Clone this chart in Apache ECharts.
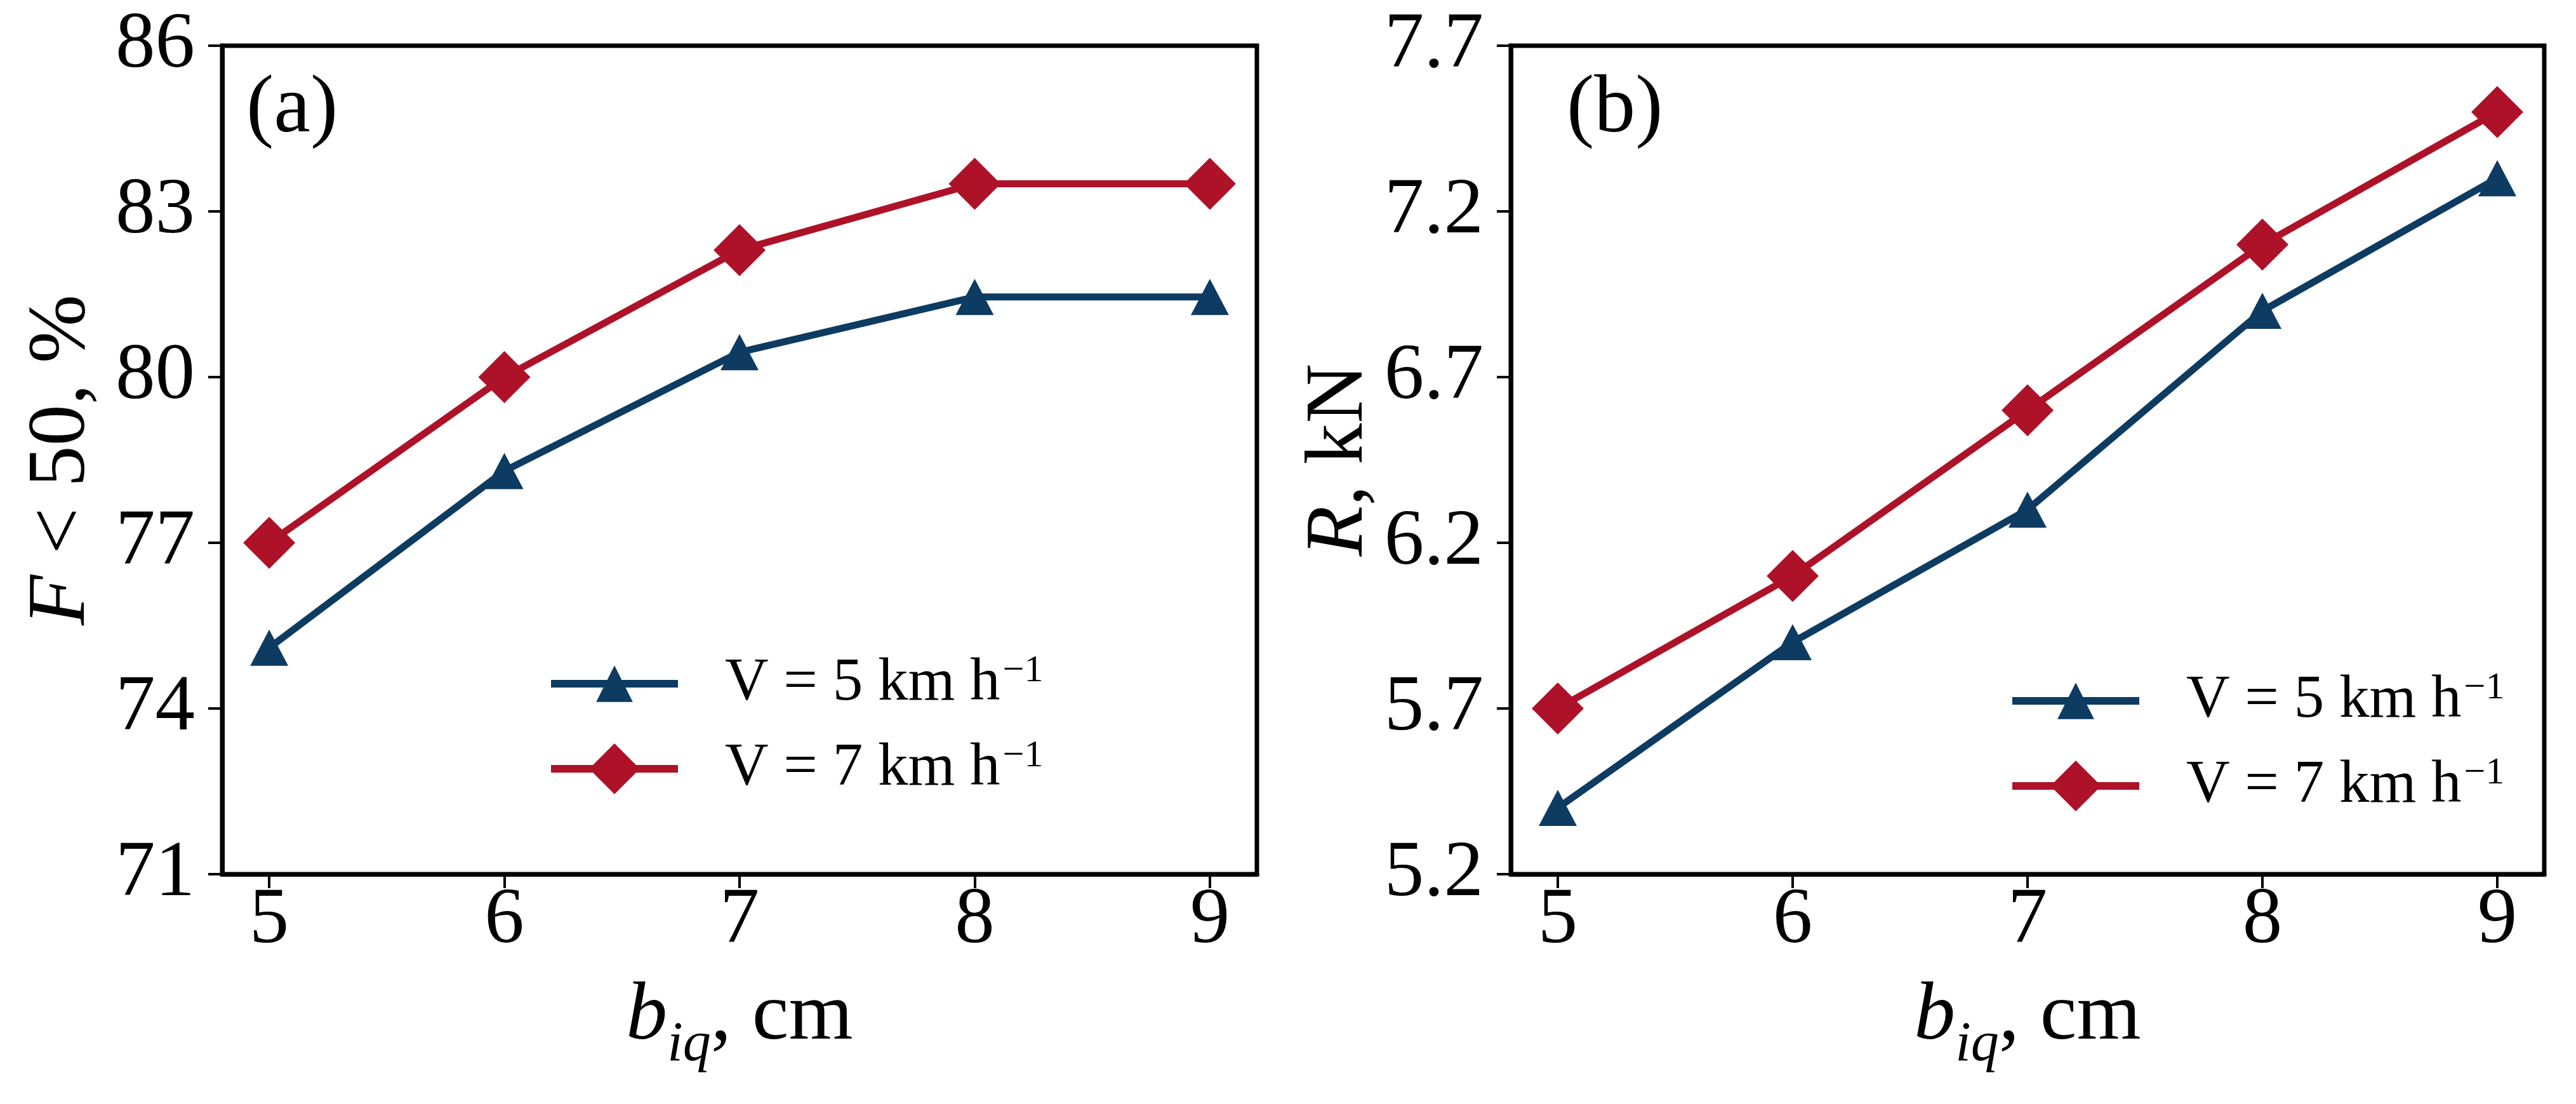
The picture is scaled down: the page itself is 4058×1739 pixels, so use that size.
<!DOCTYPE html>
<html>
<head>
<meta charset="utf-8">
<script src="https://cdn.jsdelivr.net/npm/echarts@6/dist/echarts.min.js"></script>
<style>
html, body { margin: 0; padding: 0; background: #fff; }
#main { width: 4058px; height: 1739px; }
</style>
</head>
<body>
<div id="main"></div>
<script>
// data
var widths = [5, 6, 7, 8, 9];
var fractionV5 = [75.1, 78.3, 80.45, 81.45, 81.45];
var fractionV7 = [77.0, 80.0, 82.3, 83.5, 83.5];
var resistV5 = [5.4, 5.9, 6.3, 6.9, 7.3];
var resistV7 = [5.7, 6.1, 6.6, 7.1, 7.5];
var fractionTicks = [71, 74, 77, 80, 83, 86];
var resistTicks = [5.2, 5.7, 6.2, 6.7, 7.2, 7.7];
var nameV5 = 'V = 5 km h⁻¹';
var nameV7 = 'V = 7 km h⁻¹';

var serif = "'Liberation Serif', 'Times New Roman', serif";
var blue = '#0d3b61';
var red = '#ae1228';

var chart = echarts.init(document.getElementById('main'));

function pairs(ys) {
    return widths.map(function (w, i) { return [w, ys[i]]; });
}

function xAxisFor(idx) {
    return {
        type: 'value',
        gridIndex: idx,
        min: 4.8,
        max: 9.2,
        name: '{i|b}{s|iq}{n|, cm}',
        nameLocation: 'middle',
        nameGap: 160,
        nameTextStyle: {
            color: '#000',
            rich: {
                i: { fontSize: 130, fontFamily: serif, fontStyle: 'italic', lineHeight: 130, verticalAlign: 'top', color: '#000' },
                s: { fontSize: 88, fontFamily: serif, fontStyle: 'italic', lineHeight: 88, verticalAlign: 'top', padding: [66, 0, 0, 0], color: '#000' },
                n: { fontSize: 130, fontFamily: serif, lineHeight: 130, verticalAlign: 'top', color: '#000' }
            }
        },
        axisLine: { show: true, onZero: false, lineStyle: { color: '#000', width: 7 } },
        axisTick: { show: true, customValues: widths, length: 22, lineStyle: { color: '#000', width: 4 } },
        axisLabel: { customValues: widths, margin: 12, fontSize: 125, fontFamily: serif, color: '#000' },
        splitLine: { show: false }
    };
}

function yAxisFor(idx, min, max, ticks, name, gap, digits) {
    return {
        type: 'value',
        gridIndex: idx,
        min: min,
        max: max,
        name: name,
        nameLocation: 'middle',
        nameGap: gap,
        nameTextStyle: {
            color: '#000',
            rich: {
                i: { fontSize: 130, fontFamily: serif, fontStyle: 'italic', color: '#000' },
                n: { fontSize: 130, fontFamily: serif, color: '#000' }
            }
        },
        axisLine: { show: true, onZero: false, lineStyle: { color: '#000', width: 7 } },
        axisTick: { show: true, customValues: ticks, length: 22, lineStyle: { color: '#000', width: 4 } },
        axisLabel: {
            customValues: ticks,
            margin: 43,
            fontSize: 125,
            fontFamily: serif,
            color: '#000',
            formatter: function (v) { return v.toFixed(digits); }
        },
        splitLine: { show: false }
    };
}

function lineSeries(name, idx, ys, color, symbol, size) {
    return {
        type: 'line',
        name: name,
        xAxisIndex: idx,
        yAxisIndex: idx,
        data: pairs(ys),
        symbol: symbol,
        symbolSize: size,
        lineStyle: { width: 11, color: color },
        itemStyle: { color: color },
        emphasis: { disabled: true },
        animation: false
    };
}

function legendFor(name, left, top, h) {
    return {
        data: [name],
        left: left,
        top: top,
        padding: 0,
        itemWidth: 200,
        itemHeight: h,
        selectedMode: false,
        lineStyle: { width: 12 },
        formatter: function (n) { return n.replace('⁻¹', '{sup|−1}'); },
        textStyle: {
            fontSize: 95,
            fontFamily: serif,
            color: '#000',
            lineHeight: 100,
            padding: [0, 0, 0, 69],
            rich: {
                sup: { fontSize: 60, fontFamily: serif, color: '#000', lineHeight: 100, verticalAlign: 'top', padding: [0, 0, 0, 4] }
            }
        }
    };
}

var option = {
    backgroundColor: '#fff',
    animation: false,
    grid: [
        { left: 350, right: 2078, top: 72, bottom: 362, show: true, borderColor: '#000', borderWidth: 7, containLabel: false, outerBoundsMode: 'none' },
        { left: 2380, right: 50, top: 72, bottom: 362, show: true, borderColor: '#000', borderWidth: 7, containLabel: false, outerBoundsMode: 'none' }
    ],
    xAxis: [xAxisFor(0), xAxisFor(1)],
    yAxis: [
        yAxisFor(0, 71, 86, fractionTicks, '{i|F}{n| < 50, %}', 187, 0),
        yAxisFor(1, 5.2, 7.7, resistTicks, '{i|R}{n|, kN}', 204, 1)
    ],
    legend: [
        legendFor(nameV5, 862, 1027, 72),
        legendFor(nameV7, 862, 1161, 100),
        legendFor(nameV5, 3164, 1054, 72),
        legendFor(nameV7, 3164, 1188, 100)
    ],
    graphic: [
        { type: 'text', left: 388, top: 108, style: { text: '(a)', fontSize: 130, fontFamily: serif, fill: '#000' } },
        { type: 'text', left: 2468, top: 108, style: { text: '(b)', fontSize: 130, fontFamily: serif, fill: '#000' } }
    ],
    series: [
        lineSeries(nameV5, 0, fractionV5, blue, 'triangle', [60, 57]),
        lineSeries(nameV7, 0, fractionV7, red, 'diamond', [82, 82]),
        lineSeries(nameV5, 1, resistV5, blue, 'triangle', [60, 57]),
        lineSeries(nameV7, 1, resistV7, red, 'diamond', [82, 82])
    ]
};

chart.setOption(option);
</script>
</body>
</html>
